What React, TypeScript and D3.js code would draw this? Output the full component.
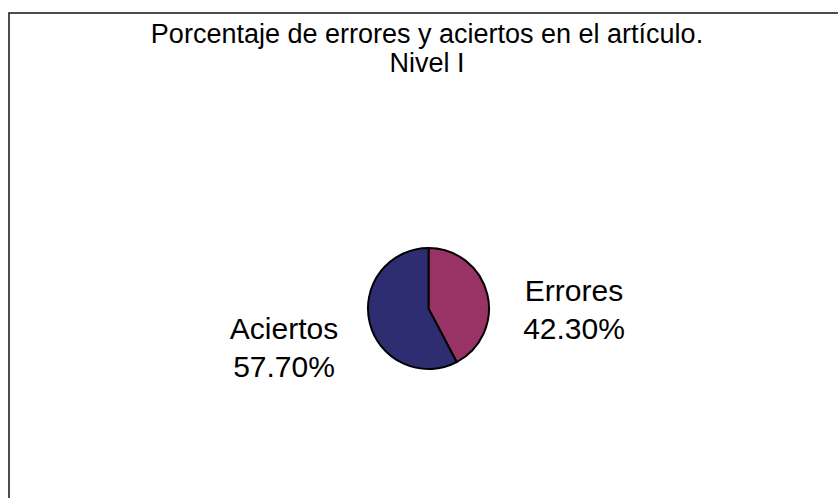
import * as d3 from "d3";
import { useEffect, useRef } from "react";

const categories = ["Errores", "Aciertos"];
const percentages = [42.3, 57.7];
const sliceColors = ["#993366", "#2e2d72"];
const titleLines = ["Porcentaje de errores y aciertos en el artículo.", "Nivel I"];

const WIDTH = 838;
const HEIGHT = 498;

export default function App() {
    const svgRef = useRef<SVGSVGElement | null>(null);

    useEffect(() => {
        if (!svgRef.current) return;
        const svg = d3.select(svgRef.current);
        svg.selectAll("*").remove();

        svg.attr("width", WIDTH).attr("height", HEIGHT);

        svg.append("rect")
            .attr("width", WIDTH)
            .attr("height", HEIGHT)
            .attr("fill", "#ffffff");

        // chart frame (right and bottom sides run off the picture)
        svg.append("rect")
            .attr("x", 9)
            .attr("y", 13)
            .attr("width", WIDTH + 20)
            .attr("height", HEIGHT + 20)
            .attr("fill", "none")
            .attr("stroke", "#222")
            .attr("stroke-width", 1.6);

        const font = "'Liberation Sans', Arial, sans-serif";

        // Title, two lines
        titleLines.forEach((line, i) => {
            svg.append("text")
                .attr("x", 427)
                .attr("y", 43 + i * 29)
                .attr("text-anchor", "middle")
                .style("font-family", font)
                .style("font-size", "27px")
                .style("fill", "#000")
                .text(line);
        });

        // Pie
        const cx = 428.5;
        const cy = 308.5;
        const radius = 60.5;

        const pie = d3.pie<number>().sort(null).value(d => d);
        const arcs = pie(percentages);
        const arc = d3.arc<d3.PieArcDatum<number>>().innerRadius(0).outerRadius(radius);

        const g = svg.append("g").attr("transform", `translate(${cx},${cy})`);
        g.selectAll("path")
            .data(arcs)
            .enter()
            .append("path")
            .attr("d", arc)
            .attr("fill", (d, i) => sliceColors[i])
            .attr("stroke", "#000")
            .attr("stroke-width", 2)
            .attr("stroke-linejoin", "round");

        // Labels outside the pie
        const labelPos = [
            { x: 574, y: 301 },
            { x: 284, y: 339 },
        ];
        categories.forEach((cat, i) => {
            const t = svg.append("text")
                .attr("text-anchor", "middle")
                .style("font-family", font)
                .style("font-size", "30px")
                .style("fill", "#000");
            t.append("tspan")
                .attr("x", labelPos[i].x)
                .attr("y", labelPos[i].y)
                .text(cat);
            t.append("tspan")
                .attr("x", labelPos[i].x)
                .attr("y", labelPos[i].y + 38)
                .text(`${percentages[i].toFixed(2)}%`);
        });
    }, []);

    return (
        <svg
            ref={svgRef}
            style={{ position: "absolute", left: 0, top: 0, display: "block" }}
        ></svg>
    );
}
